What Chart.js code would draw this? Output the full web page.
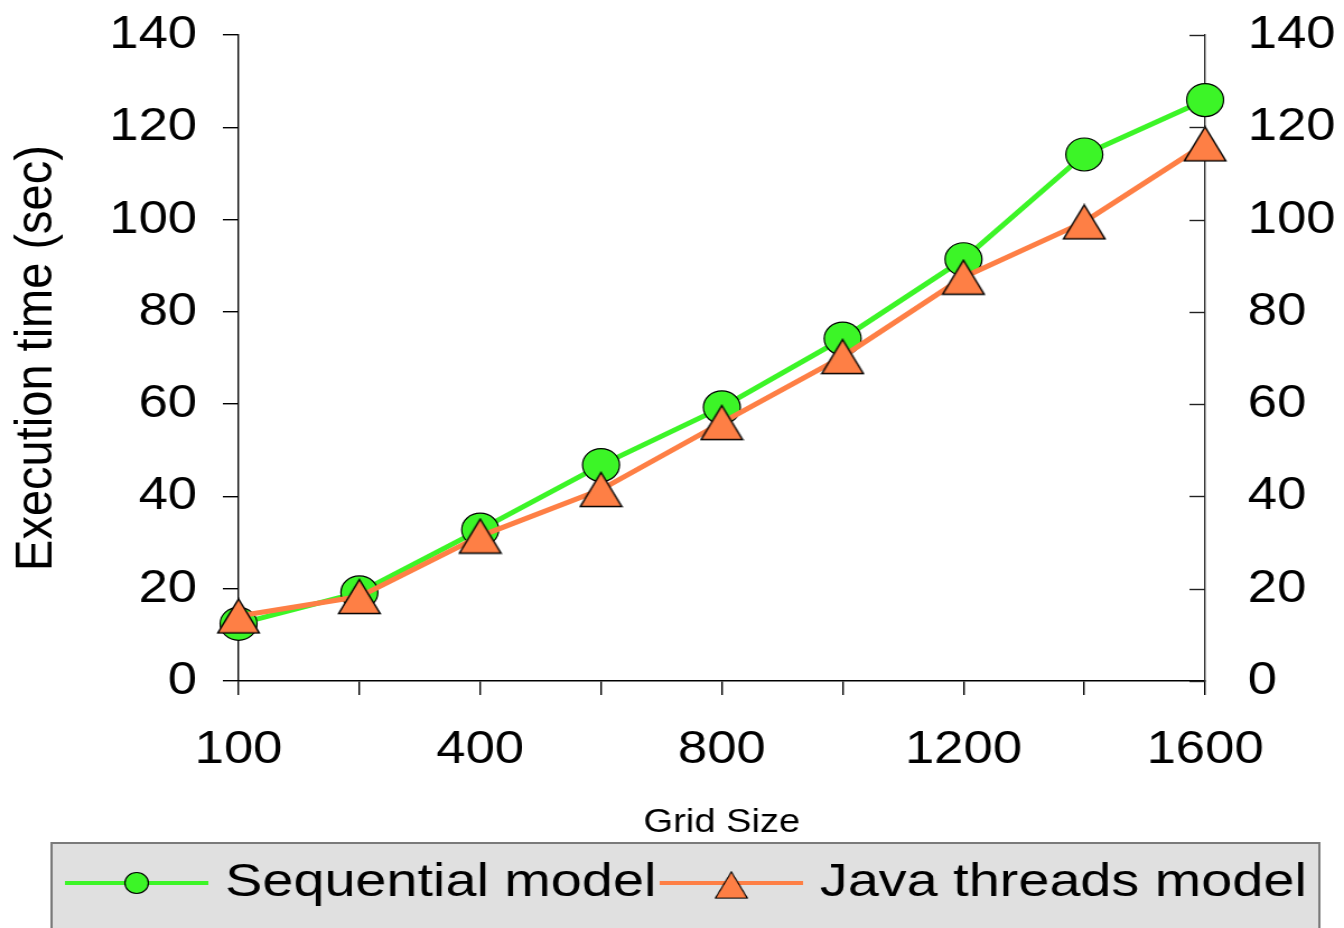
<!DOCTYPE html>
<html lang="en">
<head>
<meta charset="UTF-8" />
<title>Execution time vs grid size</title>
<style>
  html,body{margin:0;padding:0;background:#fff;overflow:hidden;}
  /* the figure is drawn 1200 wide and widened to 1344 on screen */
  #chart{transform:scaleX(1.12);transform-origin:0 0;}
</style>
<script src="https://cdn.jsdelivr.net/npm/chart.js"></script>
</head>
<body>
<canvas id="chart" width="1200" height="928"></canvas>

<script>
/* ---- data ---- */
const gridSizes  = ['100', '200', '400', '600', '800', '1000', '1200', '1400', '1600'];
const sequential = [12.4, 19.2, 32.8, 46.8, 59.3, 74.2, 91.4, 114.1, 125.9];
const javaThreads = [14.1, 18.3, 31.4, 41.5, 56.0, 70.3, 87.5, 99.5, 116.4];
const yTicks = [0, 20, 40, 60, 80, 100, 120, 140];

const GREEN  = '#3cf527';
const ORANGE = '#fe7f45';
const FONT   = '"Liberation Sans", Arial, Helvetica, sans-serif';

/* triangle marker centred on its bounding box (the built-in one sits low) */
function triangleImage(w, h, fill) {
  const c = document.createElement('canvas');
  const bw = 1.5;
  c.width = Math.ceil(w + bw * 2);
  c.height = Math.ceil(h + bw * 2);
  const g = c.getContext('2d');
  g.fillStyle = fill;
  g.strokeStyle = '#000';
  g.lineWidth = bw;
  g.lineJoin = 'miter';
  g.beginPath();
  g.moveTo(c.width / 2, bw);
  g.lineTo(c.width - bw, c.height - bw);
  g.lineTo(bw, c.height - bw);
  g.closePath();
  g.fill();
  g.stroke();
  return c;
}
const triMarker = triangleImage(37, 34, ORANGE);

/* keep the plot box fixed: scales add no overflow padding of their own */
function noOverflow(s) {
  s.paddingTop = 0; s.paddingBottom = 0;
  s.paddingLeft = 0; s.paddingRight = 0;
}

/* short inward ticks on the right-hand axis */
const innerTicks = {
  id: 'innerTicks',
  afterDraw(chart) {
    const s = chart.scales.y2, ctx = chart.ctx;
    ctx.save();
    ctx.strokeStyle = '#222';
    ctx.lineWidth = 1.4;
    s.ticks.forEach(t => {
      const y = Math.round(s.getPixelForValue(t.value)) + 0.5;
      ctx.beginPath();
      ctx.moveTo(s.left - 14, y);
      ctx.lineTo(s.left, y);
      ctx.stroke();
    });
    ctx.restore();
  }
};

/* grey boxed legend: line sample with marker, then label */
const boxLegend = {
  id: 'boxLegend',
  afterDraw(chart) {
    const ctx = chart.ctx;
    ctx.save();
    ctx.fillStyle = '#e0e0e0';
    ctx.strokeStyle = '#7a7a7a';
    ctx.lineWidth = 2;
    ctx.fillRect(46, 843, 1132, 110);
    ctx.strokeRect(46, 843, 1132, 110);

    const y = 883, textScale = 1.06;
    let x = 58;
    ctx.font = '47px ' + FONT;
    ctx.textBaseline = 'middle';
    chart.data.datasets.forEach(ds => {
      ctx.strokeStyle = ds.borderColor;
      ctx.lineWidth = 4;
      ctx.beginPath();
      ctx.moveTo(x, y);
      ctx.lineTo(x + 128, y);
      ctx.stroke();

      const mx = x + 64;
      if (typeof ds.pointStyle === 'string') {
        ctx.fillStyle = ds.pointBackgroundColor;
        ctx.strokeStyle = '#000';
        ctx.lineWidth = 1.2;
        ctx.beginPath();
        ctx.arc(mx, y, 10.5, 0, Math.PI * 2);
        ctx.fill();
        ctx.stroke();
      } else {
        const img = ds.pointStyle, k = 0.77;
        ctx.drawImage(img, mx - img.width * k / 2, y + 2 - img.height * k / 2, img.width * k, img.height * k);
      }

      ctx.save();
      ctx.translate(x + 143, y);
      ctx.scale(textScale, 1);
      ctx.fillStyle = '#000';
      ctx.fillText(ds.label, 0, 0);
      ctx.restore();
      x += 143 + ctx.measureText(ds.label).width * textScale + 3;
    });
    ctx.restore();
  }
};

new Chart(document.getElementById('chart'), {
  type: 'line',
  data: {
    labels: gridSizes,
    datasets: [
      {
        label: 'Sequential model',
        data: sequential,
        borderColor: GREEN,
        borderWidth: 5,
        pointStyle: 'circle',
        pointRadius: 16.5,
        pointBackgroundColor: GREEN,
        pointBorderColor: '#000',
        pointBorderWidth: 1.2,
        order: 2
      },
      {
        label: 'Java threads model',
        data: javaThreads,
        borderColor: ORANGE,
        borderWidth: 5,
        pointStyle: triMarker,
        pointRadius: 18,
        pointBackgroundColor: ORANGE,
        order: 1
      }
    ]
  },
  options: {
    responsive: false,
    animation: false,
    layout: { padding: { top: 35, bottom: 85, left: 0, right: 0 } },
    plugins: { legend: { display: false }, tooltip: { enabled: false } },
    scales: {
      x: {
        type: 'category',
        offset: false,
        border: { display: true, color: '#000', width: 1.4 },
        grid: { display: true, drawOnChartArea: false, drawTicks: true, tickLength: 14, color: '#000', lineWidth: 1.4 },
        ticks: {
          autoSkip: false,
          maxRotation: 0,
          padding: 27,
          color: '#000',
          font: { family: FONT, size: 47 },
          callback: (v, i) => (i % 2 === 0 ? gridSizes[i] : '')
        },
        title: {
          display: true,
          text: 'Grid Size',
          color: '#000',
          font: { family: FONT, size: 34 },
          padding: { top: 0, bottom: 0 }
        },
        afterFit: s => { s.height = 162; noOverflow(s); }
      },
      y: {
        position: 'left',
        min: 0,
        max: 140,
        afterBuildTicks: s => { s.ticks = yTicks.map(v => ({ value: v })); },
        border: { display: true, color: '#000', width: 1.4 },
        grid: { display: true, drawOnChartArea: false, drawTicks: true, tickLength: 14, color: '#000', lineWidth: 1.4 },
        ticks: { padding: 23, color: '#000', font: { family: FONT, size: 47 } },
        title: {
          display: true,
          text: 'Execution time (sec)',
          color: '#000',
          font: { family: FONT, size: 47 },
          padding: { top: 5, bottom: 0 }
        },
        afterFit: s => { s.width = 213; noOverflow(s); }
      },
      y2: {
        position: 'right',
        min: 0,
        max: 140,
        z: 1,
        afterBuildTicks: s => { s.ticks = yTicks.map(v => ({ value: v })); },
        border: { display: true, color: '#333', width: 1.4 },
        grid: { display: false, drawOnChartArea: false, drawTicks: false },
        ticks: { padding: 38, color: '#000', font: { family: FONT, size: 47 } },
        afterFit: s => { s.width = 124; noOverflow(s); }
      }
    }
  },
  plugins: [innerTicks, boxLegend]
});
</script>
</body>
</html>
